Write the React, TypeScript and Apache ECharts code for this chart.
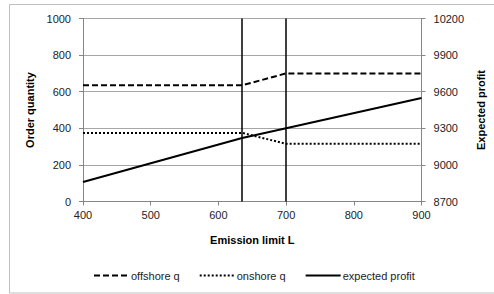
import React, { useEffect, useRef } from "react";
import * as echarts from "echarts";

const xTicks = [400, 500, 600, 700, 800, 900];
const limitL = [400, 635, 700, 900];
const offshoreQ = [635, 635, 700, 700];
const onshoreQ = [375, 375, 315, 315];
const expectedProfit = [8860, 9220, 9300, 9548];
const verticalMarks = [635, 700];

const FONT = "Liberation Sans";

export default function App() {
  const ref = useRef<HTMLDivElement>(null);
  useEffect(() => {
    if (!ref.current) return;
    const chart = echarts.init(ref.current, null, { renderer: "svg" });
    const pairs = (ys: number[]) => limitL.map((x, i) => [x, ys[i]]);
    const lineBase = { type: "line", symbol: "none", showSymbol: false, smooth: false, z: 3 };
    const plain = (v: number) => String(v);
    chart.setOption({
      animation: false,
      backgroundColor: "#fff",
      textStyle: { fontFamily: FONT },
      graphic: [
        {
          type: "rect",
          shape: { x: 9.5, y: 4.5, width: 490, height: 288.5 },
          style: { fill: "none", stroke: "#BFBFBF", lineWidth: 1 },
          silent: true,
          z: -1,
        },
      ],
      grid: { left: 83, right: 70.5, top: 18.5, bottom: 92.5, containLabel: false },
      legend: {
        left: 88,
        top: 265,
        itemWidth: 35,
        itemHeight: 8,
        itemGap: 19,
        itemStyle: { color: "transparent", borderWidth: 0, opacity: 0 },
        textStyle: { fontFamily: FONT, fontSize: 11, color: "#222", padding: [0, 0, 0, -3] },
        data: ["offshore q", "onshore q", "expected profit"],
      },
      xAxis: {
        type: "value",
        min: 400,
        max: 900,
        interval: 100,
        name: "Emission limit L",
        nameLocation: "middle",
        nameGap: 33,
        nameTextStyle: { fontFamily: FONT, fontSize: 11, fontWeight: "bold", color: "#000" },
        axisLine: { show: true, onZero: false, lineStyle: { color: "#868686", width: 1 } },
        axisTick: { show: true, length: 4, inside: false, lineStyle: { color: "#868686" } },
        axisLabel: { fontFamily: FONT, fontSize: 11, color: "#222", margin: 8, formatter: plain },
        splitLine: { show: false },
      },
      yAxis: [
        {
          type: "value",
          min: 0,
          max: 1000,
          interval: 200,
          position: "left",
          name: "Order quantity",
          nameLocation: "middle",
          nameRotate: 90,
          nameGap: 41,
          nameTextStyle: { fontFamily: FONT, fontSize: 11, fontWeight: "bold", color: "#000" },
          axisLine: { show: true, lineStyle: { color: "#868686", width: 1 } },
          axisTick: { show: true, length: 4, lineStyle: { color: "#868686" } },
          axisLabel: { fontFamily: FONT, fontSize: 11, color: "#222", margin: 12, formatter: plain },
          splitLine: { show: true, lineStyle: { color: "#A6A6A6", width: 1 } },
        },
        {
          type: "value",
          min: 8700,
          max: 10200,
          interval: 300,
          position: "right",
          name: "Expected profit",
          nameLocation: "middle",
          nameRotate: 90,
          nameGap: 51,
          nameTextStyle: { fontFamily: FONT, fontSize: 11, fontWeight: "bold", color: "#000" },
          axisLine: { show: true, lineStyle: { color: "#868686", width: 1 } },
          axisTick: { show: true, length: 4, lineStyle: { color: "#868686" } },
          axisLabel: { fontFamily: FONT, fontSize: 11, color: "#222", margin: 12, formatter: plain },
          splitLine: { show: false },
        },
      ],
      series: [
        {
          ...lineBase,
          name: "offshore q",
          yAxisIndex: 0,
          data: pairs(offshoreQ),
          itemStyle: { color: "#000" },
          lineStyle: { color: "#000", width: 2, type: [6, 3] },
          markLine: {
            silent: true,
            symbol: "none",
            label: { show: false },
            lineStyle: { color: "#000", width: 1.5, type: "solid" },
            data: verticalMarks.map((v) => ({ xAxis: v })),
          },
        },
        {
          ...lineBase,
          name: "onshore q",
          yAxisIndex: 0,
          data: pairs(onshoreQ),
          itemStyle: { color: "#000" },
          lineStyle: { color: "#000", width: 2, type: [2, 2] },
        },
        {
          ...lineBase,
          name: "expected profit",
          yAxisIndex: 1,
          data: pairs(expectedProfit),
          itemStyle: { color: "#000" },
          lineStyle: { color: "#000", width: 2, type: "solid" },
        },
      ],
    });
    return () => chart.dispose();
  }, []);
  return (
    <div
      ref={ref}
      style={{ position: "fixed", left: 0, top: 0, width: 494, height: 294, background: "#fff" }}
    />
  );
}
